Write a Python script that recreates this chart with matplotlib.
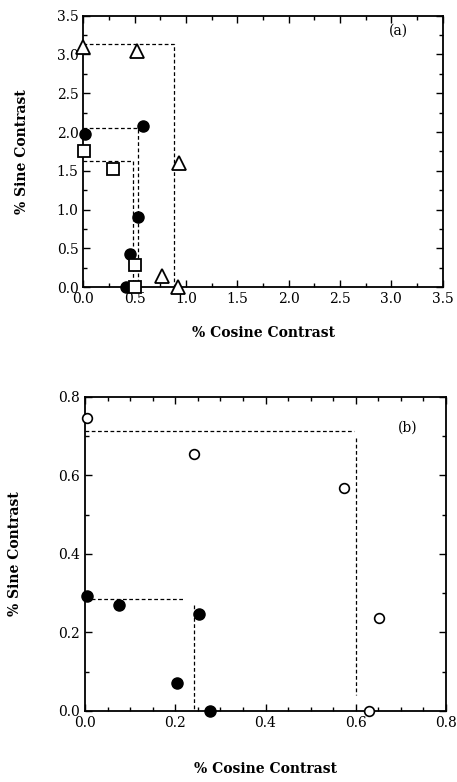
import numpy as np
from matplotlib import pyplot as plt
from matplotlib.ticker import MultipleLocator

plt.rcParams['font.family'] = ['DejaVu Serif']

# Panel (a) data
tri_x = [0.0, 0.52, 0.93, 0.77, 0.92]
tri_y = [3.09, 3.05, 1.60, 0.15, 0.0]
dot_a_x = [0.02, 0.585, 0.535, 0.455, 0.42]
dot_a_y = [1.98, 2.08, 0.90, 0.43, 0.0]
sq_x = [0.01, 0.29, 0.50, 0.50]
sq_y = [1.75, 1.52, 0.29, 0.01]
# dashed boxes (corner x, corner y)
box_a = [(0.88, 3.13), (0.535, 2.05), (0.48, 1.63)]

# Panel (b) data
open_b_x = [0.005, 0.242, 0.573, 0.652, 0.63]
open_b_y = [0.745, 0.654, 0.568, 0.236, 0.0]
dot_b_x = [0.004, 0.076, 0.253, 0.203, 0.276]
dot_b_y = [0.293, 0.27, 0.246, 0.072, 0.0]

fig = plt.figure(figsize=(4.57, 7.82), dpi=100)

def style(ax, xmaj, xmin, ymaj, ymin):
    ax.xaxis.set_major_locator(MultipleLocator(xmaj))
    ax.xaxis.set_minor_locator(MultipleLocator(xmin))
    ax.yaxis.set_major_locator(MultipleLocator(ymaj))
    ax.yaxis.set_minor_locator(MultipleLocator(ymin))
    ax.tick_params(which='both', direction='in', top=True, right=True, width=1)
    ax.tick_params(which='major', length=5, labelsize=10)
    ax.tick_params(which='minor', length=3)
    for s in ax.spines.values():
        s.set_linewidth(1.3)

# ---- (a)
ax1 = fig.add_axes([0.1823, 0.6326, 0.7864, 0.3474])
for bx, by in box_a:
    ax1.plot([0, bx, bx], [by, by, 0], ls=(0, (3, 2)), color='k', lw=0.9)
ax1.plot(tri_x, tri_y, ls='none', marker='^', ms=10, mfc='white', mec='k', mew=1.3, clip_on=False, zorder=5)
ax1.plot(dot_a_x, dot_a_y, ls='none', marker='o', ms=8, mfc='k', mec='k', clip_on=False, zorder=5)
ax1.plot(sq_x, sq_y, ls='none', marker='s', ms=8.5, mfc='white', mec='k', mew=1.3, clip_on=False, zorder=5)
ax1.set_xlim(0, 3.5)
ax1.set_ylim(0, 3.5)
style(ax1, 0.5, 0.25, 0.5, 0.25)
ax1.set_xlabel('% Cosine Contrast', fontsize=10, fontweight='bold', labelpad=14)
ax1.set_ylabel('% Sine Contrast', fontsize=10, fontweight='bold', labelpad=20)
ax1.text(3.07, 3.3, '(a)', fontsize=10, ha='center', va='center')

# ---- (b)
ax2 = fig.add_axes([0.186, 0.0908, 0.790, 0.4019])
ax2.plot([0, 0.595], [0.712, 0.712], ls=(0, (3, 2)), color='k', lw=0.9)
ax2.plot([0.60, 0.60], [0.695, 0.04], ls=(0, (3, 2)), color='k', lw=0.9)
ax2.plot([0, 0.222], [0.286, 0.286], ls=(0, (3, 2)), color='k', lw=0.9)
ax2.plot([0.242, 0.242], [0.271, 0.0], ls=(0, (3, 2)), color='k', lw=0.9)
ax2.plot(open_b_x, open_b_y, ls='none', marker='o', ms=7, mfc='white', mec='k', mew=1.2, clip_on=False, zorder=5)
ax2.plot(dot_b_x, dot_b_y, ls='none', marker='o', ms=8, mfc='k', mec='k', clip_on=False, zorder=5)
ax2.set_xlim(0, 0.8)
ax2.set_ylim(0, 0.8)
style(ax2, 0.2, 0.05, 0.2, 0.1)
ax2.set_xlabel('% Cosine Contrast', fontsize=10, fontweight='bold', labelpad=23)
ax2.set_ylabel('% Sine Contrast', fontsize=10, fontweight='bold', labelpad=26)
ax2.text(0.715, 0.72, '(b)', fontsize=10, ha='center', va='center')

plt.savefig('out.png', dpi=100)
